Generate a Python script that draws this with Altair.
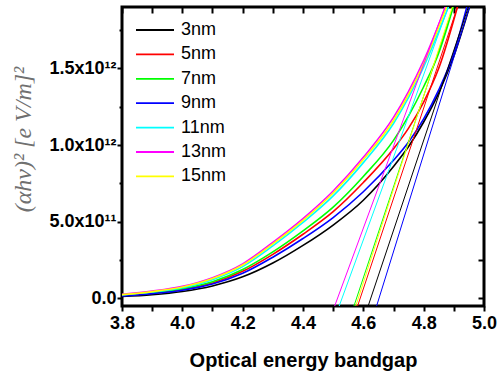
import altair as alt
import pandas as pd

# ---- data (y in units of 1e12) ----
series = ["3nm", "5nm", "7nm", "9nm", "11nm", "13nm", "15nm"]
colors = ["#000000", "#ff0000", "#00ff00", "#0000ff", "#00ffff", "#ff00ff", "#ffff00"]

x_3nm = [3.8, 3.9, 4.0, 4.1, 4.2, 4.3, 4.4, 4.5, 4.6, 4.7, 4.75, 4.8, 4.85, 4.9, 4.952]
y_3nm = [0.012, 0.024, 0.045, 0.081, 0.14, 0.23, 0.345, 0.478, 0.64, 0.86, 0.99, 1.15, 1.34, 1.58, 1.9]
x_5nm = [3.8, 3.9, 4.0, 4.1, 4.2, 4.3, 4.4, 4.5, 4.6, 4.7, 4.75, 4.8, 4.85, 4.912]
y_5nm = [0.018, 0.034, 0.058, 0.1, 0.176, 0.287, 0.418, 0.565, 0.755, 0.975, 1.11, 1.28, 1.5, 1.9]
x_7nm = [3.8, 3.9, 4.0, 4.1, 4.2, 4.3, 4.4, 4.5, 4.6, 4.7, 4.75, 4.8, 4.85, 4.898]
y_7nm = [0.02, 0.037, 0.062, 0.108, 0.188, 0.303, 0.44, 0.595, 0.795, 1.03, 1.19, 1.38, 1.6, 1.9]
x_9nm = [3.8, 3.9, 4.0, 4.1, 4.2, 4.3, 4.4, 4.5, 4.6, 4.7, 4.75, 4.8, 4.85, 4.9, 4.943]
y_9nm = [0.016, 0.031, 0.053, 0.093, 0.163, 0.268, 0.39, 0.527, 0.695, 0.9, 1.02, 1.17, 1.36, 1.6, 1.9]
x_11nm = [3.8, 3.9, 4.0, 4.1, 4.2, 4.3, 4.4, 4.5, 4.6, 4.7, 4.75, 4.8, 4.882]
y_11nm = [0.022, 0.041, 0.07, 0.122, 0.207, 0.342, 0.495, 0.668, 0.885, 1.14, 1.31, 1.51, 1.9]
x_13nm = [3.8, 3.9, 4.0, 4.1, 4.2, 4.3, 4.4, 4.5, 4.6, 4.7, 4.75, 4.8, 4.873]
y_13nm = [0.026, 0.047, 0.078, 0.135, 0.225, 0.365, 0.52, 0.70, 0.92, 1.18, 1.35, 1.55, 1.9]
x_15nm = [3.8, 3.9, 4.0, 4.1, 4.2, 4.3, 4.4, 4.5, 4.6, 4.7, 4.75, 4.8, 4.876]
y_15nm = [0.024, 0.044, 0.074, 0.129, 0.217, 0.355, 0.508, 0.687, 0.905, 1.16, 1.33, 1.53, 1.9]

# tangent (Tauc) lines: x at the bottom and top of the frame
tangent_y = [-0.05, 1.9]
tangent_x_bottom = [4.616, 4.581, 4.569, 4.644, 4.52, 4.505, 4.575]
tangent_x_top = [4.948, 4.912, 4.898, 4.952, 4.882, 4.870, 4.895]

x_ticks = [3.8, 3.9, 4.0, 4.1, 4.2, 4.3, 4.4, 4.5, 4.6, 4.7, 4.8, 4.9, 5.0]
y_ticks = [0.0, 0.25, 0.5, 0.75, 1.0, 1.25, 1.5, 1.75]

curve_x = [x_3nm, x_5nm, x_7nm, x_9nm, x_11nm, x_13nm, x_15nm]
curve_y = [y_3nm, y_5nm, y_7nm, y_9nm, y_11nm, y_13nm, y_15nm]

rows = []
for s, xs, ys in zip(series, curve_x, curve_y):
    for xv, yv in zip(xs, ys):
        rows.append({"series": s, "x": xv, "y": yv})
curves = pd.DataFrame(rows)

lrows = []
for s, xb, xt in zip(series, tangent_x_bottom, tangent_x_top):
    lrows.append({"series": s, "x": xb, "y": tangent_y[0]})
    lrows.append({"series": s, "x": xt, "y": tangent_y[1]})
lines = pd.DataFrame(lrows)

xscale = alt.Scale(domain=[3.8, 5.0], nice=False, zero=False)
yscale = alt.Scale(domain=[-0.05, 1.9], nice=False, zero=False)
cscale = alt.Scale(domain=series, range=colors)

ylabel = ("datum.value == 0 ? '0.0' : datum.value == 0.5 ? '5.0x10\u00b9\u00b9' : "
          "datum.value == 1 ? '1.0x10\u00b9\u00b2' : datum.value == 1.5 ? '1.5x10\u00b9\u00b2' : ''")

x_axis = alt.Axis(values=x_ticks, labelExpr="round(datum.value*10)%2==0 ? format(datum.value,'.1f') : ''",
                  title="Optical energy bandgap", titleFont="Liberation Sans", titleFontSize=20,
                  titleFontWeight="bold", titleColor="black", titleY=60, titleBaseline="alphabetic",
                  labelFont="Liberation Sans", labelFontSize=18, labelFontWeight="bold", labelColor="black",
                  tickSize=5, tickWidth=2, tickColor="black", labelPadding=3, domain=False, grid=False,
                  labelFlush=False)
y_axis = alt.Axis(values=y_ticks, labelExpr=ylabel,
                  title="(\u03b1h\u03bd)\u00b2 [e V/m]\u00b2", titleFont="Liberation Serif",
                  titleFontStyle="italic", titleFontWeight="normal", titleFontSize=24, titleColor="#707070",
                  titleX=-99, titleY=132, titleAngle=270, titleAlign="center", titleBaseline="middle",
                  labelFont="Liberation Sans", labelFontSize=18, labelFontWeight="bold", labelColor="black",
                  tickSize={"condition": {"test": "round(datum.value*4)%2==0", "value": 5}, "value": 3},
                  tickWidth=2, tickColor="black", labelPadding=1, domain=False, grid=False, labelFlush=False)

curve_layer = alt.Chart(curves).mark_line(interpolate="monotone", strokeWidth=1.6, clip=True).encode(
    x=alt.X("x:Q", scale=xscale, axis=x_axis),
    y=alt.Y("y:Q", scale=yscale, axis=y_axis),
    color=alt.Color("series:N", scale=cscale, sort=series,
                    legend=alt.Legend(title=None, orient="none", legendX=13, legendY=14,
                                      symbolType="stroke", symbolSize=1444, symbolStrokeWidth=1.8,
                                      labelFont="Liberation Sans", labelFontSize=18, labelColor="black",
                                      clipHeight=18, rowPadding=6.4, labelOffset=6)),
)

line_layer = alt.Chart(lines).mark_line(strokeWidth=1.0, clip=True).encode(
    x=alt.X("x:Q", scale=xscale, axis=None),
    y=alt.Y("y:Q", scale=yscale, axis=None),
    color=alt.Color("series:N", scale=cscale, sort=series),
    detail="series:N",
)

frame_ticks = alt.Chart(lines).mark_point(opacity=0).encode(
    x=alt.X("x:Q", scale=xscale, axis=alt.Axis(orient="top", values=x_ticks, labels=False, title=None,
                                               tickSize=6, tickWidth=2, tickColor="black", offset=-6,
                                               domain=False, grid=False)),
    y=alt.Y("y:Q", scale=yscale, axis=alt.Axis(orient="right", values=y_ticks, labels=False, title=None,
                                               tickSize=6, tickWidth=2, tickColor="black", offset=-6,
                                               domain=False, grid=False)),
)

chart = alt.layer(curve_layer, line_layer, frame_ticks).resolve_axis(
    x="independent", y="independent"
).properties(
    width=362, height=299,
    padding={"left": 122, "top": 7, "right": 14, "bottom": 73},
    autosize=alt.AutoSizeParams(type="none"),
    background="white",
).configure_view(stroke="black", strokeWidth=3)

chart.save("out.html", embed_options={"renderer": "svg", "actions": False})
